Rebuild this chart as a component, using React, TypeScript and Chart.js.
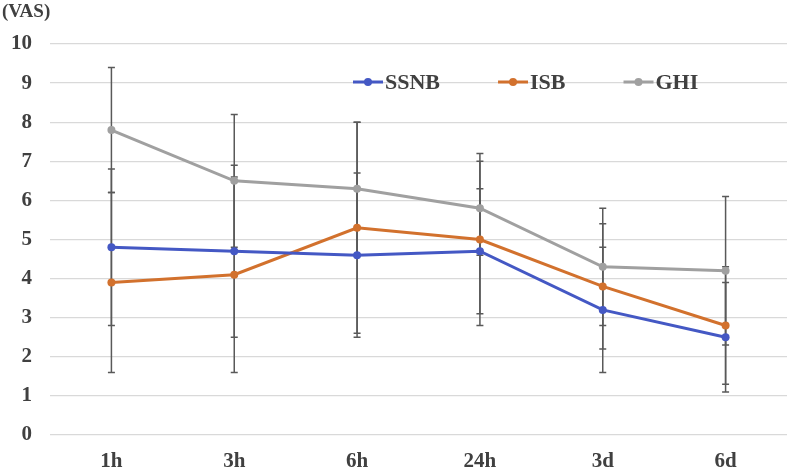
import React, { useEffect, useRef } from "react";
import { Chart, registerables } from "chart.js";

Chart.register(...registerables);

const categories = ["1h", "3h", "6h", "24h", "3d", "6d"];
const ssnbValues = [4.8, 4.7, 4.6, 4.7, 3.2, 2.5];
const isbValues = [3.9, 4.1, 5.3, 5.0, 3.8, 2.8];
const ghiValues = [7.8, 6.5, 6.3, 5.8, 4.3, 4.2];
const ssnbErrors = [2.0, 2.2, 2.1, 1.6, 1.6, 1.4];
const isbErrors = [2.3, 2.5, 2.7, 2.2, 1.6, 1.5];
const ghiErrors = [1.6, 1.7, 1.7, 1.2, 1.5, 1.9];
const seriesNames = ["SSNB", "ISB", "GHI"];
const seriesColors = ["#4458C4", "#D2712D", "#A0A0A0"];
const yTitle = "(VAS)";

const FONT = "'Times New Roman', 'Liberation Serif', serif";
const TEXT = "#404040";

const errorSets = [ssnbErrors, isbErrors, ghiErrors];

const errorBarPlugin = {
  id: "errorBars",
  beforeDatasetsDraw(chart: any) {
    const ctx = chart.ctx;
    const y = chart.scales.y;
    ctx.save();
    ctx.strokeStyle = "#595959";
    ctx.lineWidth = 1.5;
    chart.data.datasets.forEach((ds: any, i: number) => {
      const meta = chart.getDatasetMeta(i);
      const errs = errorSets[i];
      meta.data.forEach((pt: any, j: number) => {
        const v = ds.data[j];
        const e = errs[j];
        const x = pt.x;
        const yHi = y.getPixelForValue(v + e);
        const yLo = y.getPixelForValue(v - e);
        ctx.beginPath();
        ctx.moveTo(x, yHi);
        ctx.lineTo(x, yLo);
        ctx.moveTo(x - 3.5, yHi);
        ctx.lineTo(x + 3.5, yHi);
        ctx.moveTo(x - 3.5, yLo);
        ctx.lineTo(x + 3.5, yLo);
        ctx.stroke();
      });
    });
    ctx.restore();
  },
};

const legendPlugin = {
  id: "customLegend",
  afterDraw(chart: any) {
    const ctx = chart.ctx;
    const area = chart.chartArea;
    ctx.save();
    ctx.font = `bold 22px ${FONT}`;
    ctx.textBaseline = "middle";
    let x = 353;
    const cy = area.top + 38;
    chart.data.datasets.forEach((ds: any, i: number) => {
      const color = seriesColors[i];
      ctx.strokeStyle = color;
      ctx.lineWidth = 3;
      ctx.beginPath();
      ctx.moveTo(x, cy);
      ctx.lineTo(x + 30, cy);
      ctx.stroke();
      ctx.fillStyle = color;
      ctx.beginPath();
      ctx.arc(x + 15, cy, 4, 0, Math.PI * 2);
      ctx.fill();
      ctx.fillStyle = TEXT;
      ctx.textAlign = "left";
      ctx.fillText(ds.label, x + 32, cy + 1);
      x += 32 + ctx.measureText(ds.label).width + 58;
    });
    ctx.font = `bold 19px ${FONT}`;
    ctx.textBaseline = "alphabetic";
    ctx.fillText(yTitle, 2, 17);
    ctx.restore();
  },
};

export default function App() {
  const ref = useRef<HTMLCanvasElement | null>(null);
  useEffect(() => {
    if (!ref.current) return;
    const datasets = [ssnbValues, isbValues, ghiValues].map((d, i) => ({
      label: seriesNames[i],
      data: d,
      borderColor: seriesColors[i],
      backgroundColor: seriesColors[i],
      pointBackgroundColor: seriesColors[i],
      pointBorderColor: seriesColors[i],
      borderWidth: 3,
      pointRadius: 4,
      pointBorderWidth: 0,
      tension: 0,
    }));
    const chart = new Chart(ref.current, {
      type: "line",
      data: { labels: categories, datasets },
      options: {
        responsive: false,
        animation: false,
        layout: { padding: { top: 44, right: 2, left: 0, bottom: 0 } },
        plugins: { legend: { display: false }, tooltip: { enabled: false } },
        scales: {
          x: {
            offset: true,
            grid: { display: false, drawTicks: false },
            border: { display: false },
            ticks: {
              color: TEXT,
              font: { family: FONT, size: 21, weight: "bold" },
              padding: 14,
            },
            afterFit: (axis: any) => {
              axis.height = 36;
            },
          },
          y: {
            min: 0,
            max: 10,
            grid: { color: "#D9D9D9", lineWidth: 1.3, drawTicks: false },
            border: { display: false },
            ticks: {
              stepSize: 1,
              color: TEXT,
              font: { family: FONT, size: 21, weight: "bold" },
              padding: 18,
            },
            afterFit: (axis: any) => {
              axis.width = 50;
            },
          },
        },
      },
      plugins: [errorBarPlugin, legendPlugin],
    } as any);
    return () => chart.destroy();
  }, []);
  return (
    <div style={{ position: "absolute", left: 0, top: 0, width: 791, height: 471, background: "#fff" }}>
      <canvas ref={ref} width={791} height={471} />
    </div>
  );
}
